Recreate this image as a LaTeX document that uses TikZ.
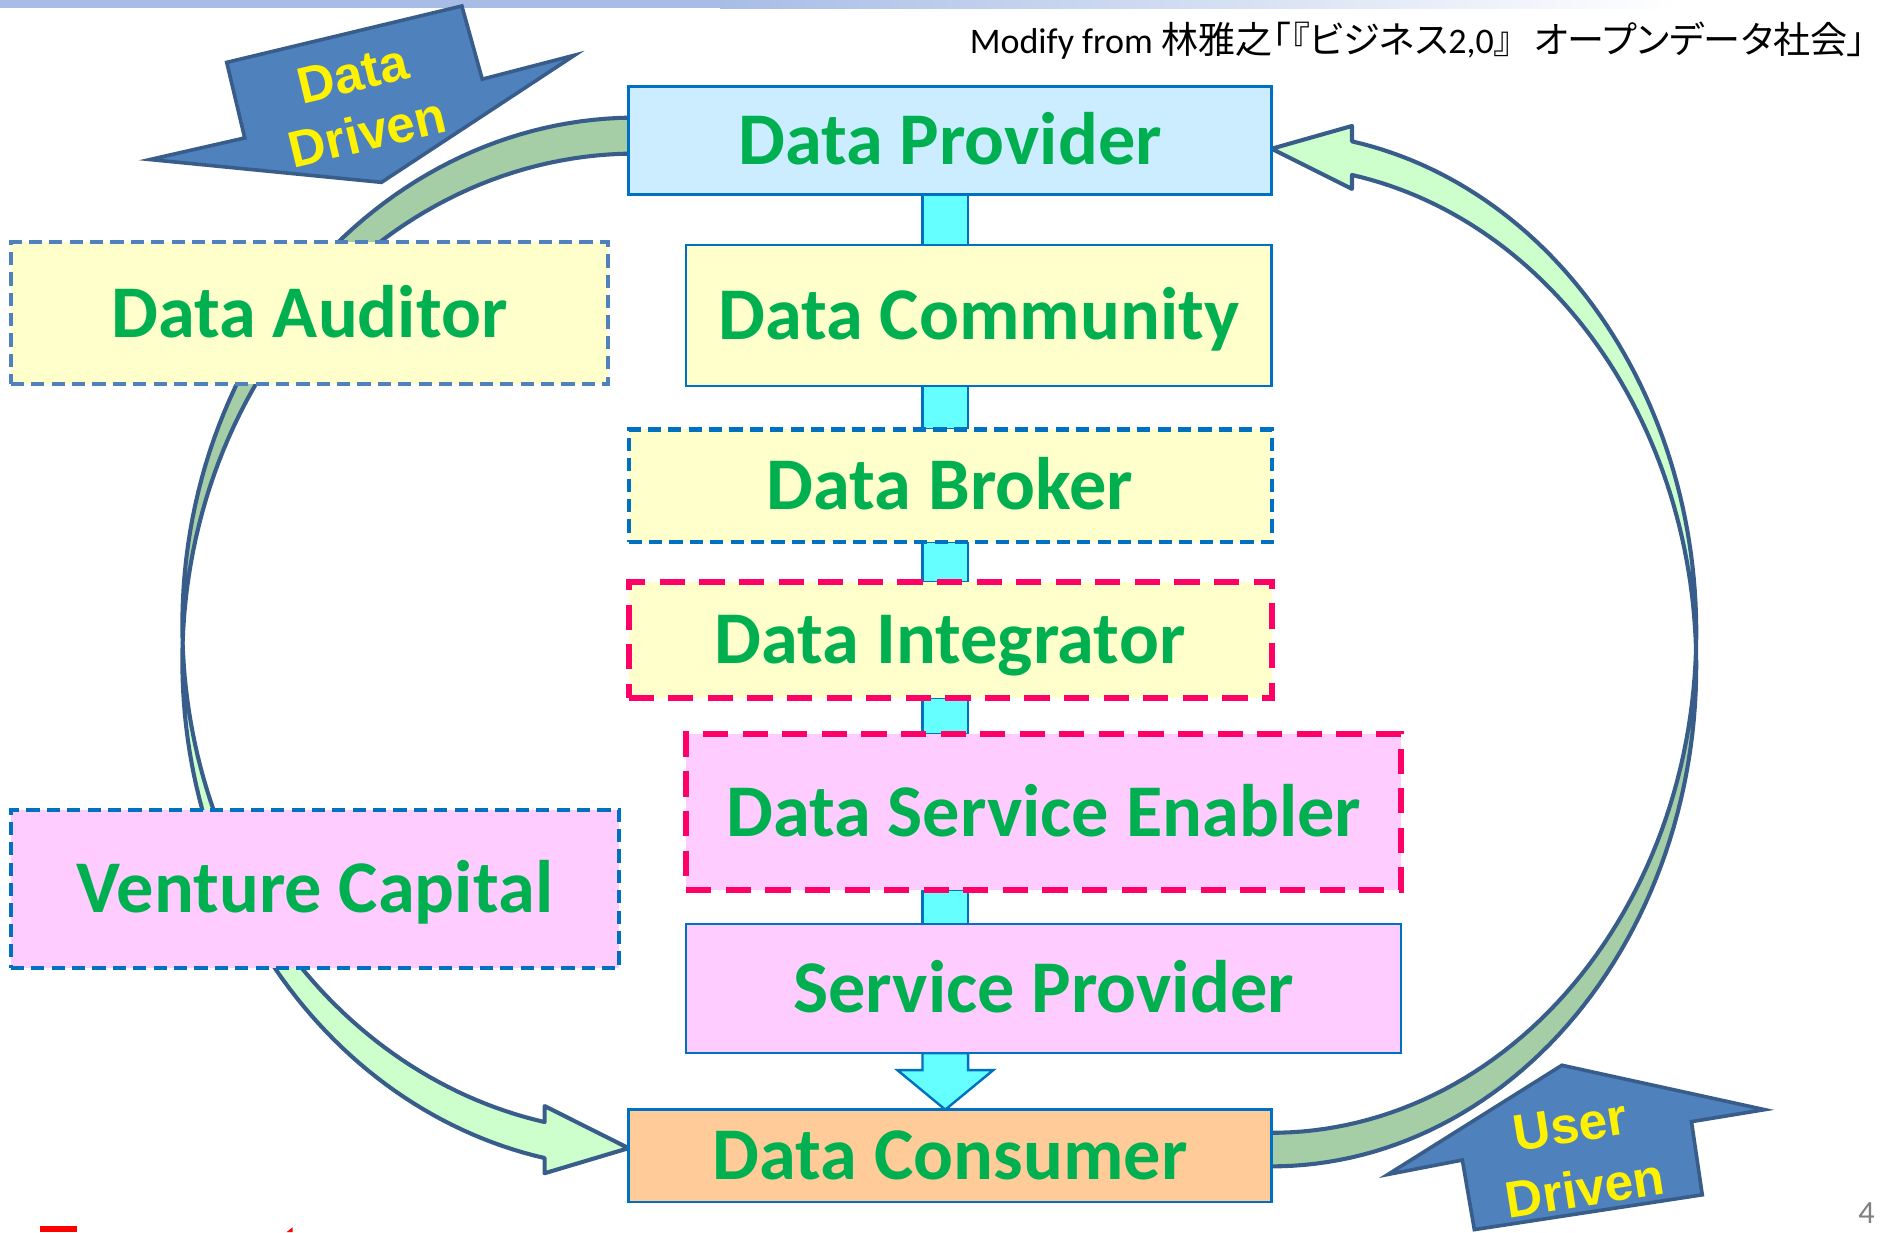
\documentclass[tikz,border=0pt]{standalone}
\usepackage{fontspec}
\setmainfont{Carlito}
\newfontfamily\jpfont{Noto Sans CJK JP}[RawFeature=+palt,Scale=1.03]
\newfontfamily\arialfont{Liberation Sans}
\usepackage{xcolor}
\definecolor{ColProv}{RGB}{204,236,255}
\definecolor{ColYel}{RGB}{255,255,204}
\definecolor{ColPink}{RGB}{255,204,255}
\definecolor{ColCons}{RGB}{255,204,153}
\definecolor{ColLine}{RGB}{0,112,192}
\definecolor{ColAud}{RGB}{79,129,189}
\definecolor{ColRed}{RGB}{255,0,102}
\definecolor{ColText}{RGB}{0,176,80}
\definecolor{ColCyan}{RGB}{102,255,255}
\definecolor{ColDark}{RGB}{166,206,166}
\definecolor{ColLight}{RGB}{204,255,204}
\definecolor{ColEdge}{RGB}{56,93,138}
\definecolor{ColBlock}{RGB}{79,129,189}
\definecolor{ColBar}{RGB}{168,189,230}
\definecolor{ColGrey}{RGB}{128,128,128}
\usepackage{tikz}
\usetikzlibrary{backgrounds}
\tikzstyle{Box}=[rectangle,inner sep=0pt,outer sep=0pt,text=ColText,
font=\fontsize{31}{36}\selectfont\bfseries,text height=20pt,text depth=0pt]
\tikzstyle{Solid}=[draw=ColLine,line width=1pt]
\tikzstyle{DashBlue}=[draw=ColLine,line width=1.7pt,dash pattern=on 5.5pt off 3pt]
\tikzstyle{DashRed}=[draw=ColRed,line width=2.5pt,dash pattern=on 10.5pt off 6pt]
\tikzstyle{Bar}=[fill=ColCyan,draw=ColLine,line width=1pt,line join=miter]
\tikzstyle{Arc}=[draw=ColEdge,line width=1.7pt,line join=round,variable=\t,samples=60]
\tikzstyle{Block}=[fill=ColBlock,draw=ColEdge,line width=1.5pt,line join=miter]
\tikzstyle{BlockText}=[text=yellow,inner sep=0pt,
font=\arialfont\bfseries\fontsize{21.4}{25}\selectfont]

\begin{document}
\begin{tikzpicture}[x=0.5pt,y=-0.5pt]
    \useasboundingbox(0,0)rectangle(1568,1027);
    % top band
    \fill[ColBar](0,0)rectangle(600,7);
    \shade[left color=ColBar,right color=white](600,0)rectangle(1400,7);
    \node[anchor=base west,inner sep=0pt,font=\fontsize{15}{18}\selectfont](src)at(808,45)
        {Modify from {\jpfont 林雅之「『ビジネス}2,0{\jpfont 』}\hspace{0.6em}{\jpfont オープンデータ社会」}};
    % chain
    \node[Box,Solid,fill=ColProv,minimum width=268pt,minimum height=45pt](prov)at(792,117){Data Provider};
    \node[Box,Solid,fill=ColYel,minimum width=244pt,minimum height=59pt](comm)at(816,263){Data Community};
    \node[Box,DashBlue,fill=ColYel,minimum width=268pt,minimum height=47pt](brok)at(792,405){Data Broker};
    \node[Box,DashRed,fill=ColYel,minimum width=268pt,minimum height=48.5pt](integ)at(792,533.5){Data Integrator};
    \node[Box,DashRed,fill=ColPink,minimum width=298pt,minimum height=65pt](enab)at(870,677){Data Service Enabler};
    \node[Box,Solid,fill=ColPink,minimum width=298pt,minimum height=54pt](sprov)at(870,824){Service Provider};
    \node[Box,Solid,fill=ColCons,minimum width=268pt,minimum height=38.5pt](cons)at(792,963.5){Data Consumer};
    % side roles
    \node[Box,DashBlue,draw=ColAud,fill=ColYel,minimum width=249pt,minimum height=59pt](aud)at(258,261){Data Auditor};
    \node[Box,DashBlue,fill=ColPink,minimum width=253.5pt,minimum height=66pt](vc)at(262.5,741){Venture Capital};
    % links between the chain boxes
    \coordinate(bl)at(769,0);
    \coordinate(br)at(807,0);
    \coordinate(bm)at(788,0);
    \coordinate(hd)at(0,892);
    \begin{scope}[on background layer]
        \draw[Bar](bl|-prov.south)rectangle(br|-comm.north);
        \draw[Bar](bl|-comm.south)rectangle(br|-brok.north);
        \draw[Bar](bl|-brok.south)rectangle(br|-integ.north);
        \draw[Bar](bl|-integ.south)rectangle(br|-enab.north);
        \draw[Bar](bl|-enab.south)rectangle(br|-sprov.north);
        \draw[Bar](bl|-sprov.south)--(bl|-hd)--(748,892)--(bm|-cons.north)
            --(828,892)--(br|-hd)--(br|-sprov.south)--cycle;
        % data driven loop (left)
        \filldraw[Arc,fill=ColDark]plot[domain=271:177.97]({530+378*cos(\t)},{521+423*sin(\t)})
            --plot[domain=182.03:271]({530+378*cos(\t)},{551+423*sin(\t)})--cycle;
        \filldraw[Arc,fill=ColLight]plot[domain=182.03:101.6]({530+378*cos(\t)},{551+423*sin(\t)})
            --(454,978)--([yshift=3.2pt]cons.west)--(454,922)
            --plot[domain=101.6:177.97]({530+378*cos(\t)},{521+423*sin(\t)})--cycle;
        % user driven loop (right)
        \filldraw[Arc,fill=ColLight](1127,105)--([yshift=-3.5pt]prov.east)--(1127,157.5)
            --plot[domain=-79.09:-1.92]({1060+354*cos(\t)},{555.3+417*sin(\t)})
            --plot[domain=1.92:-79.09]({1060+354*cos(\t)},{527.3+417*sin(\t)})--cycle;
        \filldraw[Arc,fill=ColDark]plot[domain=1.92:92]({1060+354*cos(\t)},{527.3+417*sin(\t)})
            --plot[domain=92:-1.92]({1060+354*cos(\t)},{555.3+417*sin(\t)})--cycle;
    \end{scope}
    % block arrows
    \filldraw[Block](189,52)--(385,5)--(402,66)--(479,46)--(318,152)--(125,133)--(204,115)--cycle;
    \node[BlockText,rotate=13.5](dd1)at(294,62){Data};
    \node[BlockText,rotate=13.5](dd2)at(306,110){Driven};
    \filldraw[Block](1302,888)--(1471,925)--(1410,935)--(1419,996)--(1229,1025)--(1219,967)--(1157,979)--cycle;
    \node[BlockText,rotate=9](ud1)at(1309,938){User};
    \node[BlockText,rotate=9](ud2)at(1321,990){Driven};
    % page number and cut marks
    \node[text=ColGrey,font=\fontsize{13.5}{16}\selectfont](pg)at(1556,1011){4};
    \fill[red](33,1022)rectangle(64,1027);
    \fill[red](239,1027)--(244,1023)--(244,1027)--cycle;
\end{tikzpicture}
\end{document}
